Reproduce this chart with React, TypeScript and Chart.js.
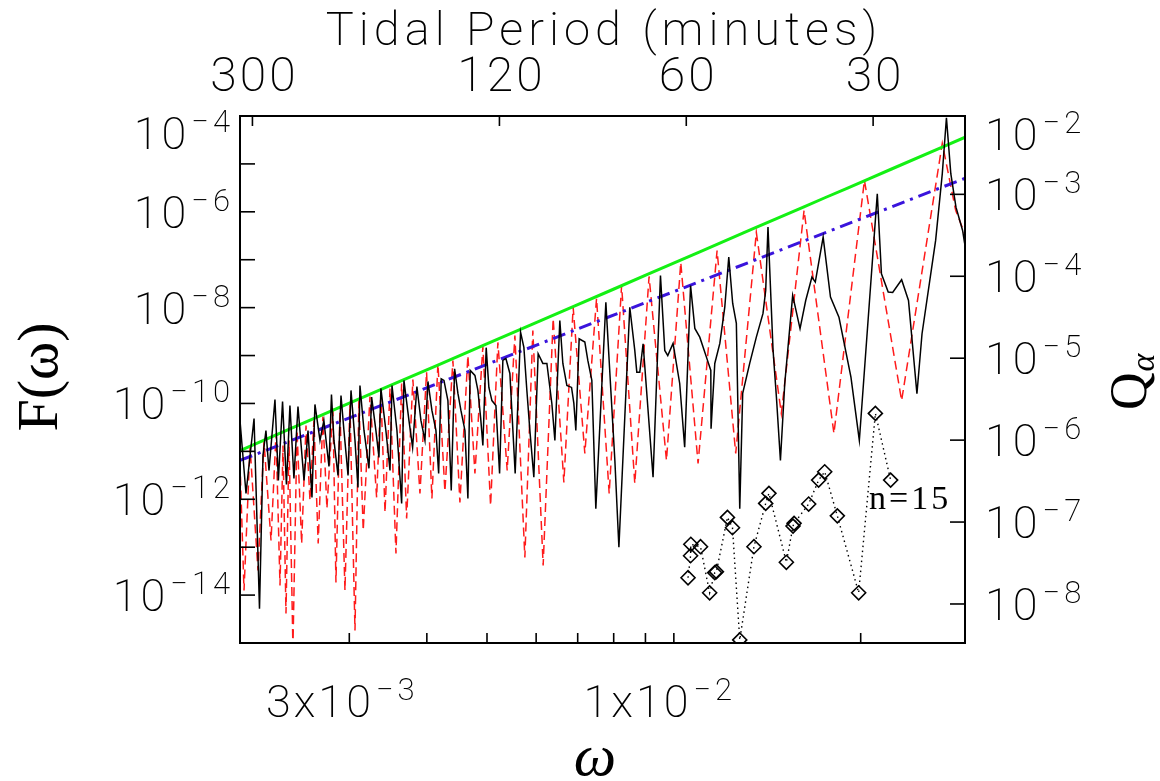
import React, { useEffect, useRef } from 'react';
import { Chart, registerables } from 'chart.js';

Chart.register(...registerables);

// ---- Data (omega in the plot's frequency units) ----
const omegaBlack = [
  2.000e-3, 2.045e-3, 2.107e-3, 2.150e-3, 2.178e-3, 2.202e-3, 2.227e-3, 2.277e-3, 2.306e-3, 2.342e-3,
  2.376e-3, 2.407e-3, 2.443e-3, 2.480e-3, 2.536e-3, 2.574e-3, 2.612e-3, 2.641e-3, 2.691e-3, 2.730e-3,
  2.782e-3, 2.808e-3, 2.834e-3, 2.877e-3, 2.909e-3, 2.941e-3, 2.986e-3, 3.019e-3, 3.064e-3, 3.098e-3,
  3.121e-3, 3.168e-3, 3.227e-3, 3.259e-3, 3.311e-3, 3.349e-3, 3.373e-3, 3.436e-3, 3.489e-3, 3.515e-3,
  3.580e-3, 3.643e-3, 3.674e-3, 3.743e-3, 3.794e-3, 3.855e-3, 3.913e-3, 3.972e-3, 4.016e-3, 4.076e-3,
  4.137e-3, 4.179e-3, 4.219e-3, 4.262e-3, 4.325e-3, 4.379e-3, 4.434e-3, 4.489e-3, 4.539e-3, 4.607e-3,
  4.658e-3, 4.698e-3, 4.781e-3, 4.834e-3, 4.883e-3, 4.924e-3, 4.985e-3, 5.035e-3, 5.092e-3, 5.168e-3,
  5.239e-3, 5.303e-3, 5.363e-3, 5.443e-3, 5.551e-3, 5.663e-3, 5.733e-3, 5.797e-3, 5.862e-3, 5.949e-3,
  6.045e-3, 6.151e-3, 6.244e-3, 6.360e-3, 6.432e-3, 6.551e-3, 6.625e-3, 6.724e-3, 6.842e-3, 6.901e-3,
  6.952e-3, 7.038e-3, 7.188e-3, 7.268e-3, 7.377e-3, 7.487e-3, 7.771e-3, 7.916e-3, 8.035e-3, 8.156e-3,
  8.492e-3, 8.651e-3, 8.716e-3, 8.813e-3, 8.922e-3, 9.258e-3, 9.516e-3, 9.669e-3, 9.777e-3, 9.971e-3,
  1.022e-2, 1.041e-2, 1.064e-2, 1.081e-2, 1.101e-2, 1.1285e-2, 1.147e-2, 1.148e-2, 1.164e-2, 1.186e-2,
  1.208e-2, 1.226e-2, 1.244e-2, 1.261e-2, 1.277e-2, 1.291e-2, 1.325e-2, 1.358e-2, 1.392e-2, 1.406e-2,
  1.418e-2, 1.445e-2, 1.463e-2, 1.485e-2, 1.509e-2, 1.554e-2, 1.597e-2, 1.631e-2, 1.669e-2, 1.690e-2,
  1.740e-2, 1.788e-2, 1.845e-2, 1.929e-2, 1.990e-2, 2.127e-2, 2.160e-2, 2.215e-2, 2.252e-2, 2.328e-2,
  2.388e-2, 2.464e-2, 2.511e-2, 2.641e-2, 2.707e-2, 2.749e-2, 2.794e-2, 2.848e-2, 2.919e-2, 2.941e-2,
];
const fBlack = [
  4.42e-11, 1.32e-12, 4.86e-11, 5.2e-15, 8.2e-12, 2.73e-11, 3.99e-12, 1.21e-10, 2.47e-12, 1.10e-10,
  2.04e-12, 9.08e-11, 2.72e-12, 8.65e-11, 2.47e-12, 2.73e-11, 1.09e-12, 9.53e-11, 1.69e-11, 4.42e-11,
  4.84e-12, 1.54e-10, 1.69e-11, 3.14e-12, 1.47e-10, 2.73e-11, 3.14e-12, 1.87e-10, 1.69e-11, 1.76e-12,
  2.37e-10, 2.73e-11, 4.40e-12, 1.36e-10, 2.73e-11, 7.46e-12, 2.06e-10, 2.73e-11, 3.99e-12, 2.37e-10,
  2.73e-11, 8.17e-13, 3.02e-10, 4.42e-11, 1.21e-11, 2.26e-10, 4.42e-11, 1.69e-11, 2.88e-10, 7.14e-11,
  2.73e-11, 3.46e-12, 3.28e-10, 3.02e-10, 1.15e-10, 1.53e-12, 5.30e-10, 1.62e-10, 7.14e-11, 2.73e-11,
  1.04e-12, 4.89e-10, 3.84e-10, 1.87e-10, 5.10e-11, 1.33e-11, 1.46e-9, 2.16e-10, 1.15e-10, 9.08e-11,
  3.46e-12, 7.91e-10, 8.69e-10, 4.23e-10, 3.46e-12, 3.08e-9, 1.48e-9, 1.87e-10, 2.73e-11, 2.89e-12,
  1.09e-9, 6.84e-10, 6.84e-10, 1.0e-10, 1.69e-11, 5.40e-9, 6.84e-10, 2.37e-10, 2.16e-10, 1.0e-10,
  2.73e-11, 2.24e-9, 1.91e-9, 7.91e-10, 3.02e-10, 6.33e-13, 1.30e-8, 1.87e-10, 6.46e-12, 1.0e-13,
  1.02e-8, 1.28e-9, 4.50e-10, 4.50e-10, 1.76e-9, 2.89e-12, 4.70e-8, 1.28e-9, 1.0e-9, 1.79e-9,
  2.61e-10, 1.22e-11, 2.90e-8, 3.68e-9, 2.42e-9, 9.27e-10, 4.89e-10, 2.96e-11, 6.84e-10, 1.79e-9,
  1.02e-8, 1.13e-7, 1.22e-8, 4.68e-9, 6.33e-13, 1.62e-10, 6.84e-10, 2.42e-9, 7.56e-9, 2.29e-8,
  4.80e-7, 1.28e-9, 1.36e-10, 6.46e-12, 2.61e-10, 1.80e-8, 3.63e-9, 1.41e-8, 4.33e-8, 3.41e-8,
  2.96e-7, 1.66e-8, 6.32e-9, 3.54e-10, 1.69e-11, 2.39e-6, 5.10e-8, 2.11e-8, 2.07e-8, 3.83e-8,
  1.41e-8, 1.59e-10, 2.85e-9, 2.53e-7, 6.24e-6, 9.22e-5, 6.24e-6, 1.25e-6, 4.09e-7, 2.19e-7,
];

const omegaRed = [
  2.000e-3, 2.030e-3, 2.076e-3, 2.138e-3, 2.186e-3, 2.244e-3, 2.286e-3, 2.320e-3, 2.346e-3, 2.372e-3,
  2.399e-3, 2.434e-3, 2.471e-3, 2.514e-3, 2.555e-3, 2.593e-3, 2.631e-3, 2.673e-3, 2.720e-3, 2.761e-3,
  2.823e-3, 2.855e-3, 2.898e-3, 2.952e-3, 3.007e-3, 3.064e-3, 3.109e-3, 3.159e-3, 3.239e-3, 3.320e-3,
  3.373e-3, 3.425e-3, 3.489e-3, 3.567e-3, 3.643e-3, 3.711e-3, 3.798e-3, 3.899e-3, 3.996e-3, 4.076e-3,
  4.168e-3, 4.277e-3, 4.406e-3, 4.522e-3, 4.658e-3, 4.781e-3, 4.924e-3, 5.067e-3, 5.206e-3, 5.389e-3,
  5.545e-3, 5.754e-3, 5.927e-3, 6.158e-3, 6.391e-3, 6.650e-3, 6.883e-3, 7.188e-3, 7.507e-3, 7.867e-3,
  8.238e-3, 8.651e-3, 9.122e-3, 9.730e-3, 1.026e-2, 1.094e-2, 1.174e-2, 1.258e-2, 1.358e-2, 1.490e-2,
  1.621e-2, 1.811e-2, 2.028e-2, 2.328e-2, 2.707e-2, 2.845e-2, 2.941e-2,
];
const fRed = [
  5.86e-12, 1.25e-14, 1.26e-11, 3.26e-14, 1.61e-11, 1.38e-13, 2.37e-11, 1.58e-14, 1.33e-11, 4.13e-15,
  1.69e-11, 8e-16, 2.73e-11, 1.19e-13, 3.47e-11, 9.44e-13, 4.42e-11, 1.19e-13, 5.35e-11, 6.43e-13,
  7.87e-11, 1.83e-14, 7.14e-11, 1.25e-14, 9.53e-11, 1.82e-15, 1.15e-10, 2.23e-13, 1.40e-10, 1.09e-12,
  1.70e-10, 5.30e-13, 2.06e-10, 7.38e-14, 2.61e-10, 3.97e-13, 3.17e-10, 1.32e-12, 4.50e-10, 1.04e-12,
  6.84e-10, 1.46e-12, 7.91e-10, 8.57e-13, 1.0e-9, 3.46e-12, 1.55e-9, 7.41e-13, 1.88e-9, 3.99e-12,
  2.63e-9, 6.10e-14, 3.34e-9, 4.15e-14, 5.94e-9, 2.24e-12, 1.01e-8, 9.04e-12, 1.56e-8, 1.32e-12,
  2.90e-8, 2.14e-12, 4.48e-8, 6.46e-12, 8.77e-8, 5.58e-12, 1.56e-7, 9.04e-12, 3.72e-7, 6.18e-11,
  1.07e-6, 2.37e-11, 4.53e-6, 1.15e-10, 2.68e-5, 1.07e-6, 3.54e-7,
];

const omegaGreen = [
  2.000e-3, 2.302e-3, 2.844e-3, 3.450e-3, 4.176e-3, 4.974e-3, 5.884e-3, 6.927e-3, 7.991e-3, 9.146e-3,
  1.101e-2, 1.325e-2, 1.617e-2, 1.755e-2, 1.905e-2, 2.066e-2, 2.243e-2, 2.707e-2, 2.941e-2,
];
const fGreen = [
  1.04e-11, 2.30e-11, 7.50e-11, 2.21e-10, 6.42e-10, 1.71e-9, 4.37e-9, 1.09e-8, 2.42e-8, 5.18e-8,
  1.46e-7, 4.13e-7, 1.25e-6, 1.99e-6, 3.14e-6, 4.95e-6, 7.83e-6, 2.24e-5, 3.57e-5,
];

const omegaBlue = [2.000e-3, 2.941e-2];
const fBlue = [6.46e-12, 4.98e-6];

const omegaQ = [
  1.054e-2, 1.064e-2, 1.065e-2, 1.104e-2, 1.142e-2, 1.164e-2, 1.171e-2, 1.220e-2, 1.243e-2, 1.277e-2,
  1.346e-2, 1.406e-2, 1.423e-2, 1.518e-2, 1.556e-2, 1.562e-2, 1.649e-2, 1.711e-2, 1.750e-2, 1.834e-2,
  1.985e-2, 2.112e-2, 2.235e-2,
];
const qAlpha = [
  2.09e-8, 3.88e-8, 5.35e-8, 5.00e-8, 1.37e-8, 2.41e-8, 2.48e-8, 1.14e-7, 8.53e-8, 3.64e-9,
  5.00e-8, 1.69e-7, 2.24e-7, 3.23e-8, 8.93e-8, 9.64e-8, 1.66e-7, 3.25e-7, 4.11e-7, 1.19e-7,
  1.37e-8, 2.12e-6, 3.25e-7,
];

const omegaTicks = [3e-3, 4e-3, 5e-3, 6e-3, 7e-3, 8e-3, 9e-3, 1e-2, 2e-2];
const omegaLabelMant = ['3', '1'];
const omegaLabelVals = [3e-3, 1e-2];
const omegaLabelExps = ['−3', '−2'];
const periodTicks = [300, 120, 60, 30]; // minutes
const PERIOD_TIMES_OMEGA = (2 * Math.PI) / 10;
const fExponents = [-4, -5, -6, -7, -8, -9, -10, -11, -12, -13, -14, -15];
const qExponents = [-2, -3, -4, -5, -6, -7, -8];

const X_MIN = 2.0e-3;
const X_MAX = 2.945e-2;
const F_MIN = 1e-15;
const F_MAX = 1e-4;
const Q_MIN = 3.34e-9;
const Q_MAX = 9.04e-3;

const SANS = "Roboto, 'DejaVu Sans', sans-serif";
const SERIF = "'Liberation Serif', 'DejaVu Serif', serif";
const BASE_FONT = `200 45px ${SANS}`;
const SUP_FONT = `200 31px ${SANS}`;
const BOTTOM_LABEL_SHIFT = [-7, -14];

function setLS(ctx: CanvasRenderingContext2D, px: number) {
  (ctx as any).letterSpacing = `${px}px`;
}

function powLabel(ctx: CanvasRenderingContext2D, base: string, exp: string, x: number, yc: number, align: string) {
  ctx.font = BASE_FONT;
  setLS(ctx, 3);
  const wb = ctx.measureText(base).width;
  ctx.font = SUP_FONT;
  setLS(ctx, 4);
  const ws = ctx.measureText(exp).width;
  const gap = 2;
  const total = wb + gap + ws;
  const x0 = align === 'left' ? x : align === 'right' ? x - total : x - total / 2;
  ctx.textAlign = 'left';
  ctx.textBaseline = 'alphabetic';
  ctx.font = BASE_FONT;
  setLS(ctx, 3);
  ctx.fillText(base, x0, yc + 16);
  ctx.font = SUP_FONT;
  setLS(ctx, 4);
  ctx.fillText(exp, x0 + wb + gap, yc - 1);
  setLS(ctx, 0);
}

const idlAxes = {
  id: 'idlAxes',
  afterDraw(chart: any) {
    const { ctx, chartArea: a, scales } = chart;
    const xs = scales.x;
    const ys = scales.y;
    const qs = scales.y2;
    ctx.save();
    ctx.strokeStyle = '#000';
    ctx.fillStyle = '#000';
    const seg = (x1: number, y1: number, x2: number, y2: number) => {
      ctx.beginPath();
      ctx.moveTo(x1, y1);
      ctx.lineTo(x2, y2);
      ctx.stroke();
    };
    // frame
    ctx.lineWidth = 2;
    ctx.strokeRect(a.left, a.top, a.right - a.left, a.bottom - a.top);
    ctx.lineWidth = 1.6;
    // bottom ticks
    omegaTicks.forEach((v) => {
      const x = xs.getPixelForValue(v);
      seg(x, a.bottom, x, a.bottom - 10);
    });
    // top ticks (tidal period)
    periodTicks.forEach((p) => {
      const x = xs.getPixelForValue(PERIOD_TIMES_OMEGA / p);
      if (x > a.left + 2 && x < a.right - 2) seg(x, a.top, x, a.top + 10);
    });
    // left ticks
    fExponents.forEach((e) => {
      const y = ys.getPixelForValue(Math.pow(10, e));
      if (y > a.top + 2 && y < a.bottom - 2) seg(a.left, y, a.left + 15, y);
    });
    // right ticks
    qExponents.forEach((e) => {
      const y = qs.getPixelForValue(Math.pow(10, e));
      if (y > a.top + 2 && y < a.bottom - 2) seg(a.right, y, a.right - 15, y);
    });

    // left labels (every second decade)
    fExponents.forEach((e) => {
      if (e % 2 !== 0) return;
      let y = ys.getPixelForValue(Math.pow(10, e));
      if (y > a.bottom + 1) return;
      y = Math.max(y, a.top + 17);
      powLabel(ctx, '10', '−' + String(-e), 234, y, 'right');
    });
    // right labels
    qExponents.forEach((e) => {
      let y = qs.getPixelForValue(Math.pow(10, e));
      y = Math.max(y, a.top + 18);
      powLabel(ctx, '10', '−' + String(-e), a.right + 20, y, 'left');
    });
    // bottom labels
    omegaLabelVals.forEach((v, i) => {
      const x = xs.getPixelForValue(v);
      powLabel(ctx, omegaLabelMant[i] + 'x10', omegaLabelExps[i], x + BOTTOM_LABEL_SHIFT[i], a.bottom + 58, 'center');
    });
    // top labels
    ctx.font = `200 48px ${SANS}`;
    ctx.textAlign = 'center';
    ctx.textBaseline = 'alphabetic';
    setLS(ctx, 3);
    periodTicks.forEach((p) => {
      const x = xs.getPixelForValue(PERIOD_TIMES_OMEGA / p);
      ctx.fillText(String(p), x + 2, 91);
    });
    // top title
    ctx.font = `200 47px ${SANS}`;
    setLS(ctx, 5);
    ctx.fillText('Tidal Period (minutes)', 604, 45);
    setLS(ctx, 0);

    // x title
    ctx.font = `italic 60px ${SERIF}`;
    ctx.fillText('ω', 595, 775);

    // left title
    ctx.save();
    ctx.translate(57, 377);
    ctx.rotate(-Math.PI / 2);
    ctx.font = `58px ${SERIF}`;
    ctx.textAlign = 'center';
    ctx.fillText('F(ω)', 0, 0);
    ctx.restore();

    // right title Q_alpha
    ctx.save();
    ctx.translate(1146, 410);
    ctx.rotate(-Math.PI / 2);
    ctx.font = `52px ${SERIF}`;
    ctx.textAlign = 'left';
    ctx.fillText('Q', 0, 0);
    const wq = ctx.measureText('Q').width;
    ctx.font = `italic 34px ${SERIF}`;
    ctx.fillText('α', wq + 1, 8);
    ctx.restore();

    // annotation
    ctx.font = `34px ${SERIF}`;
    ctx.textAlign = 'left';
    setLS(ctx, 3);
    ctx.fillText('n=15', 869, 509);
    setLS(ctx, 0);

    ctx.restore();
  },
};

function pts(xs: number[], ys: number[]) {
  return xs.map((x, i) => ({ x, y: ys[i] }));
}

export default function App() {
  const ref = useRef<HTMLCanvasElement | null>(null);
  useEffect(() => {
    if (!ref.current) return;
    const chart = new Chart(ref.current, {
      type: 'scatter',
      data: {
        datasets: [
          {
            label: 'Q',
            data: pts(omegaQ, qAlpha),
            yAxisID: 'y2',
            showLine: true,
            borderColor: '#000',
            borderWidth: 1.4,
            borderDash: [1.5, 3.5],
            pointStyle: 'rectRot',
            pointRadius: 7,
            pointBorderWidth: 1.6,
            pointBorderColor: '#000',
            pointBackgroundColor: 'rgba(0,0,0,0)',
            order: 1,
          },
          {
            label: 'black',
            data: pts(omegaBlack, fBlack),
            yAxisID: 'y',
            showLine: true,
            borderColor: '#000',
            borderWidth: 1.5,
            pointRadius: 0,
            order: 2,
          },
          {
            label: 'blue',
            data: pts(omegaBlue, fBlue),
            yAxisID: 'y',
            showLine: true,
            borderColor: '#3a14dc',
            borderWidth: 3,
            borderDash: [13, 6, 3, 6],
            pointRadius: 0,
            order: 3,
          },
          {
            label: 'green',
            data: pts(omegaGreen, fGreen),
            yAxisID: 'y',
            showLine: true,
            borderColor: '#14f014',
            borderWidth: 3,
            pointRadius: 0,
            order: 4,
          },
          {
            label: 'red',
            data: pts(omegaRed, fRed),
            yAxisID: 'y',
            showLine: true,
            borderColor: '#ff1a1a',
            borderWidth: 1.5,
            borderDash: [9, 5],
            pointRadius: 0,
            order: 5,
          },
        ],
      },
      options: {
        responsive: false,
        animation: false,
        devicePixelRatio: 1,
        layout: { padding: { left: 240, right: 195, top: 116, bottom: 138 } },
        elements: { line: { tension: 0 } },
        plugins: { legend: { display: false }, tooltip: { enabled: false } },
        scales: {
          x: { type: 'logarithmic', min: X_MIN, max: X_MAX, display: false },
          y: { type: 'logarithmic', min: F_MIN, max: F_MAX, display: false },
          y2: { type: 'logarithmic', min: Q_MIN, max: Q_MAX, display: false, position: 'right' },
        },
      },
      plugins: [idlAxes],
    });
    return () => chart.destroy();
  }, []);
  return (
    <div style={{ position: 'absolute', left: 0, top: 0, width: 1160, height: 781, background: '#fff' }}>
      <canvas ref={ref} width={1160} height={781} style={{ display: 'block' }} />
    </div>
  );
}
